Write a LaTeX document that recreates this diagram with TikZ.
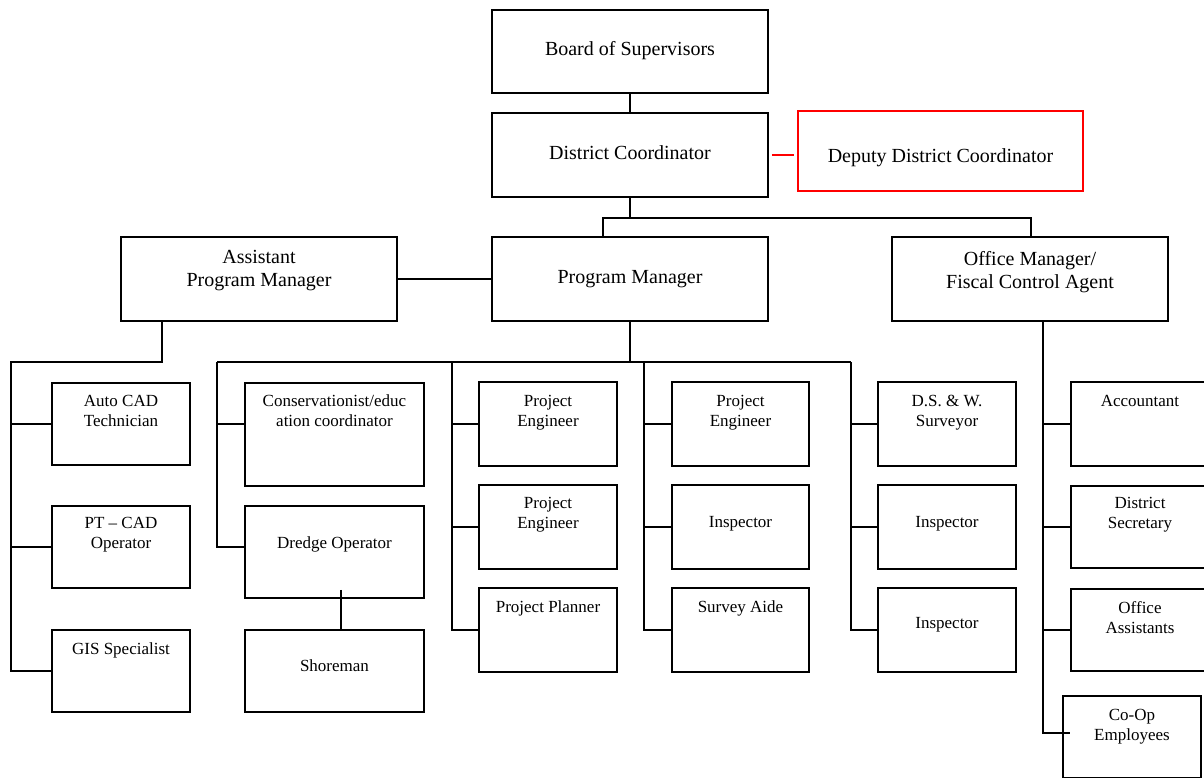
\documentclass[tikz,border=0pt]{standalone}
\usepackage{fontspec}
\setmainfont{Liberation Serif}
\usetikzlibrary{calc}

% box from its corners: style, name, x1, y1, x2, y2 (y grows downwards)
\newcommand{\orgbox}[6]{%
  \node[#1, minimum width={(#5-#3)*1pt}, minimum height={(#6-#4)*1pt}]
    (#2) at ({(#3+#5)/2},{(#4+#6)/2}) {};}

\begin{document}
\begin{tikzpicture}[x=1pt, y=-1pt,
  box/.style={draw=black, line width=1.8pt, rectangle, inner sep=0pt},
  redbox/.style={draw=red, line width=1.8pt, rectangle, inner sep=0pt},
  link/.style={draw=black, line width=1.8pt},
  redlink/.style={draw=red, line width=1.8pt},
  bigtxt/.style={anchor=north, inner sep=0pt, align=center,
                 font=\fontsize{20}{23.5}\selectfont},
  smalltxt/.style={anchor=north, inner sep=0pt, align=center,
                   font=\fontsize{17}{20}\selectfont},
]
\useasboundingbox (0,0) rectangle (1204,777);
\clip (0,0) rectangle (1204,777);

% ---- top levels
\orgbox{box}{board}{492}{10}{768}{93}
\orgbox{box}{dc}{492}{113}{768}{197}
\orgbox{redbox}{dep}{798}{111}{1083}{191}
\orgbox{box}{apm}{121}{237}{397}{321}
\orgbox{box}{pm}{492}{237}{768}{321}
\orgbox{box}{om}{892}{237}{1168}{321}

\node[bigtxt] (tboard) at (630,41) {Board of Supervisors};
\node[bigtxt] (tdc) at (630,145) {District Coordinator};
\node[bigtxt] (tdep) at (940.5,148) {Deputy District Coordinator};
\node[bigtxt] (tapm) at (259,250) {Assistant\\Program Manager};
\node[bigtxt] (tpm) at (630,270) {Program Manager};
\node[bigtxt] (tom) at (1030,251) {Office Manager/\\Fiscal Control Agent};

% ---- column 1 (under assistant program manager)
\orgbox{box}{ac}{52}{383}{190}{465}
\orgbox{box}{pt}{52}{506}{190}{588}
\orgbox{box}{gis}{52}{630}{190}{712}
\node[smalltxt] (tac) at (121,394.7) {Auto CAD\\Technician};
\node[smalltxt] (tpt) at (121,517) {PT -- CAD\\Operator};
\node[smalltxt] (tgis) at (121,642.3) {GIS Specialist};

% ---- column 2
\orgbox{box}{cons}{245}{383}{424}{486}
\orgbox{box}{dredge}{245}{506}{424}{598}
\orgbox{box}{shore}{245}{630}{424}{712}
\node[smalltxt] (tcons) at (334.5,394.7) {Conservationist/educ\\ation coordinator};
\node[smalltxt] (tdredge) at (334.5,536.3) {Dredge Operator};
\node[smalltxt] (tshore) at (334.5,659.7) {Shoreman};

% ---- column 3
\orgbox{box}{pa}{479}{382}{617}{466}
\orgbox{box}{pb}{479}{485}{617}{569}
\orgbox{box}{pc}{479}{588}{617}{672}
\node[smalltxt] (tpa) at (548,394.7) {Project\\Engineer};
\node[smalltxt] (tpb) at (548,497.3) {Project\\Engineer};
\node[smalltxt] (tpc) at (548,600.7) {Project Planner};

% ---- column 4
\orgbox{box}{qa}{672}{382}{809}{466}
\orgbox{box}{qb}{672}{485}{809}{569}
\orgbox{box}{qc}{672}{588}{809}{672}
\node[smalltxt] (tqa) at (740.5,394.7) {Project\\Engineer};
\node[smalltxt] (tqb) at (740.5,515.7) {Inspector};
\node[smalltxt] (tqc) at (740.5,600.7) {Survey Aide};

% ---- column 5
\orgbox{box}{sa}{878}{382}{1016}{466}
\orgbox{box}{sb}{878}{485}{1016}{569}
\orgbox{box}{sc}{878}{588}{1016}{672}
\node[smalltxt] (tsa) at (947,394.7) {D.S. \& W.\\Surveyor};
\node[smalltxt] (tsb) at (947,515.7) {Inspector};
\node[smalltxt] (tsc) at (947,616.7) {Inspector};

% ---- office column
\orgbox{box}{acc}{1071}{382}{1209}{466}
\orgbox{box}{sec}{1071}{486}{1209}{568}
\orgbox{box}{oas}{1071}{589}{1209}{671}
\orgbox{box}{coop}{1063}{696}{1201}{778}
\node[smalltxt] (tacc) at (1140,394.7) {Accountant};
\node[smalltxt] (tsec) at (1140,497.3) {District\\Secretary};
\node[smalltxt] (toas) at (1140,601.3) {Office\\Assistants};
\node[smalltxt] (tcoop) at (1132,709) {Co-Op\\Employees};

% ---- connectors, top
\draw[link] (board) -- (dc);
\draw[redlink, shorten <=3pt, shorten >=3pt] (dc.east) -- (dc.east -| dep.west);
\draw[link] (dc.south) -- ++(0,20) coordinate (hub);
\draw[link] ([xshift=-27pt]pm.north) |- (hub) -| ([xshift=1pt]om.north);
\draw[link] (apm) -- (pm);

% ---- assistant program manager branch
\coordinate (s1) at (11,362);
\draw[link] ([xshift=-97pt]apm.south) |- (s1) |- (gis.west);
\draw[link] (ac.west -| s1) -- (ac.west);
\draw[link] (pt.west -| s1) -- (pt.west);

% ---- program manager branch
\draw[link] (pm.south) -- ++(0,41) coordinate (pbus);
\coordinate (s2) at (217,362);
\coordinate (s3) at (452,362);
\coordinate (s4) at (644,362);
\coordinate (s5) at (851,362);
\draw[link] (s2) -- (s5);
\draw[link] (s2) |- (pt.west -| dredge.west);
\draw[link] (ac.west -| s2) -- (ac.west -| cons.west);
\draw[link] ([xshift=6.5pt,yshift=9pt]dredge.south) -- ([xshift=6.5pt]shore.north);

\draw[link] (s3) |- (pc.west);
\draw[link] (pa.west -| s3) -- (pa.west);
\draw[link] (pb.west -| s3) -- (pb.west);

\draw[link] (s4) |- (qc.west);
\draw[link] (qa.west -| s4) -- (qa.west);
\draw[link] (qb.west -| s4) -- (qb.west);

\draw[link] (s5) |- (sc.west);
\draw[link] (sa.west -| s5) -- (sa.west);
\draw[link] (sb.west -| s5) -- (sb.west);

% ---- office manager branch
\coordinate (s6) at ([xshift=13pt]om.south);
\draw[link] (s6) |- ([xshift=8pt,yshift=4pt]coop.west);
\draw[link] (acc.west -| s6) -- (acc.west);
\draw[link] (sec.west -| s6) -- (sec.west);
\draw[link] (oas.west -| s6) -- (oas.west);
\end{tikzpicture}
\end{document}
